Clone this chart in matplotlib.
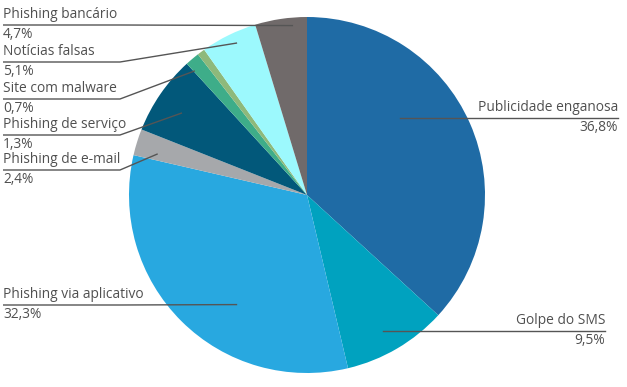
import matplotlib
matplotlib.use("Agg")
import numpy as np
import matplotlib.pyplot as plt

# wedge values, clockwise from 12 o'clock
slices = ["Publicidade enganosa", "Golpe do SMS", "Phishing via aplicativo",
          "Phishing de e-mail", "Phishing de serviço", "Site com malware",
          "(sem rótulo)", "Notícias falsas", "Phishing bancário"]
values = [36.8, 9.5, 32.3, 2.4, 7.2, 1.3, 0.7, 5.1, 4.7]
colors = ["#1F6BA5", "#00A2BF", "#28A8E0", "#A6A8AB", "#02587A",
          "#3EAD89", "#8EB97B", "#9CF9FD", "#706A6A"]
# label shown on the chart for each wedge (None = no label)
shown_pct = ["36,8%", "9,5%", "32,3%", "2,4%", "1,3%", "0,7%", None, "5,1%", "4,7%"]

W, H = 627, 387
fig = plt.figure(figsize=(W / 100, H / 100), dpi=100)
ax = fig.add_axes([0, 0, 1, 1])

cx, cy, R = 307, H - 195, 178
ax.pie(values, colors=colors, startangle=90, counterclock=False,
       center=(cx, cy), radius=R, wedgeprops=dict(linewidth=0))

# label layout: wedge index -> (side, line y in px from top, anchor angle from top, anchor radius frac)
layout = {
    0: ("right", 118, 50.4, 0.68),
    1: ("right", 331, 150.8, 0.88),
    2: ("left", 305, 212.5, 0.73),
    3: ("left", 170, 285.4, 0.87),
    4: ("left", 135, 303.3, 0.84),
    5: ("left", 99, 317.9, 0.94),
    7: ("left", 62, 335.3, 0.94),
    8: ("left", 25, 355.3, 0.955),
}
right_ends = {0: 618, 1: 605}

txt = dict(fontsize=9.9, color="#505050", family=["Open Sans", "DejaVu Sans"])
line_c = "#555555"

for i, (side, ly, ang, rf) in layout.items():
    a = np.deg2rad(ang)
    axp = cx + rf * R * np.sin(a)
    ayp = cy + rf * R * np.cos(a)
    y = H - ly
    if side == "left":
        x0 = 3
        ax.plot([x0, 120, axp], [y, y, ayp], color=line_c, lw=1.0,
                solid_capstyle="butt")
        ax.text(x0, y + 3, slices[i], ha="left", va="bottom", **txt)
        ax.text(x0, y - 2, shown_pct[i], ha="left", va="top", **txt)
    else:
        x1 = right_ends[i]
        ax.plot([axp, x1], [y, y], color=line_c, lw=1.0)
        ax.text(x1, y + 3, slices[i], ha="right", va="bottom", **txt)
        ax.text(x1, y - 2, shown_pct[i], ha="right", va="top", **txt)

ax.set_xlim(0, W)
ax.set_ylim(0, H)
ax.set_aspect("equal")
ax.axis("off")

fig.savefig("out.png", dpi=100)
